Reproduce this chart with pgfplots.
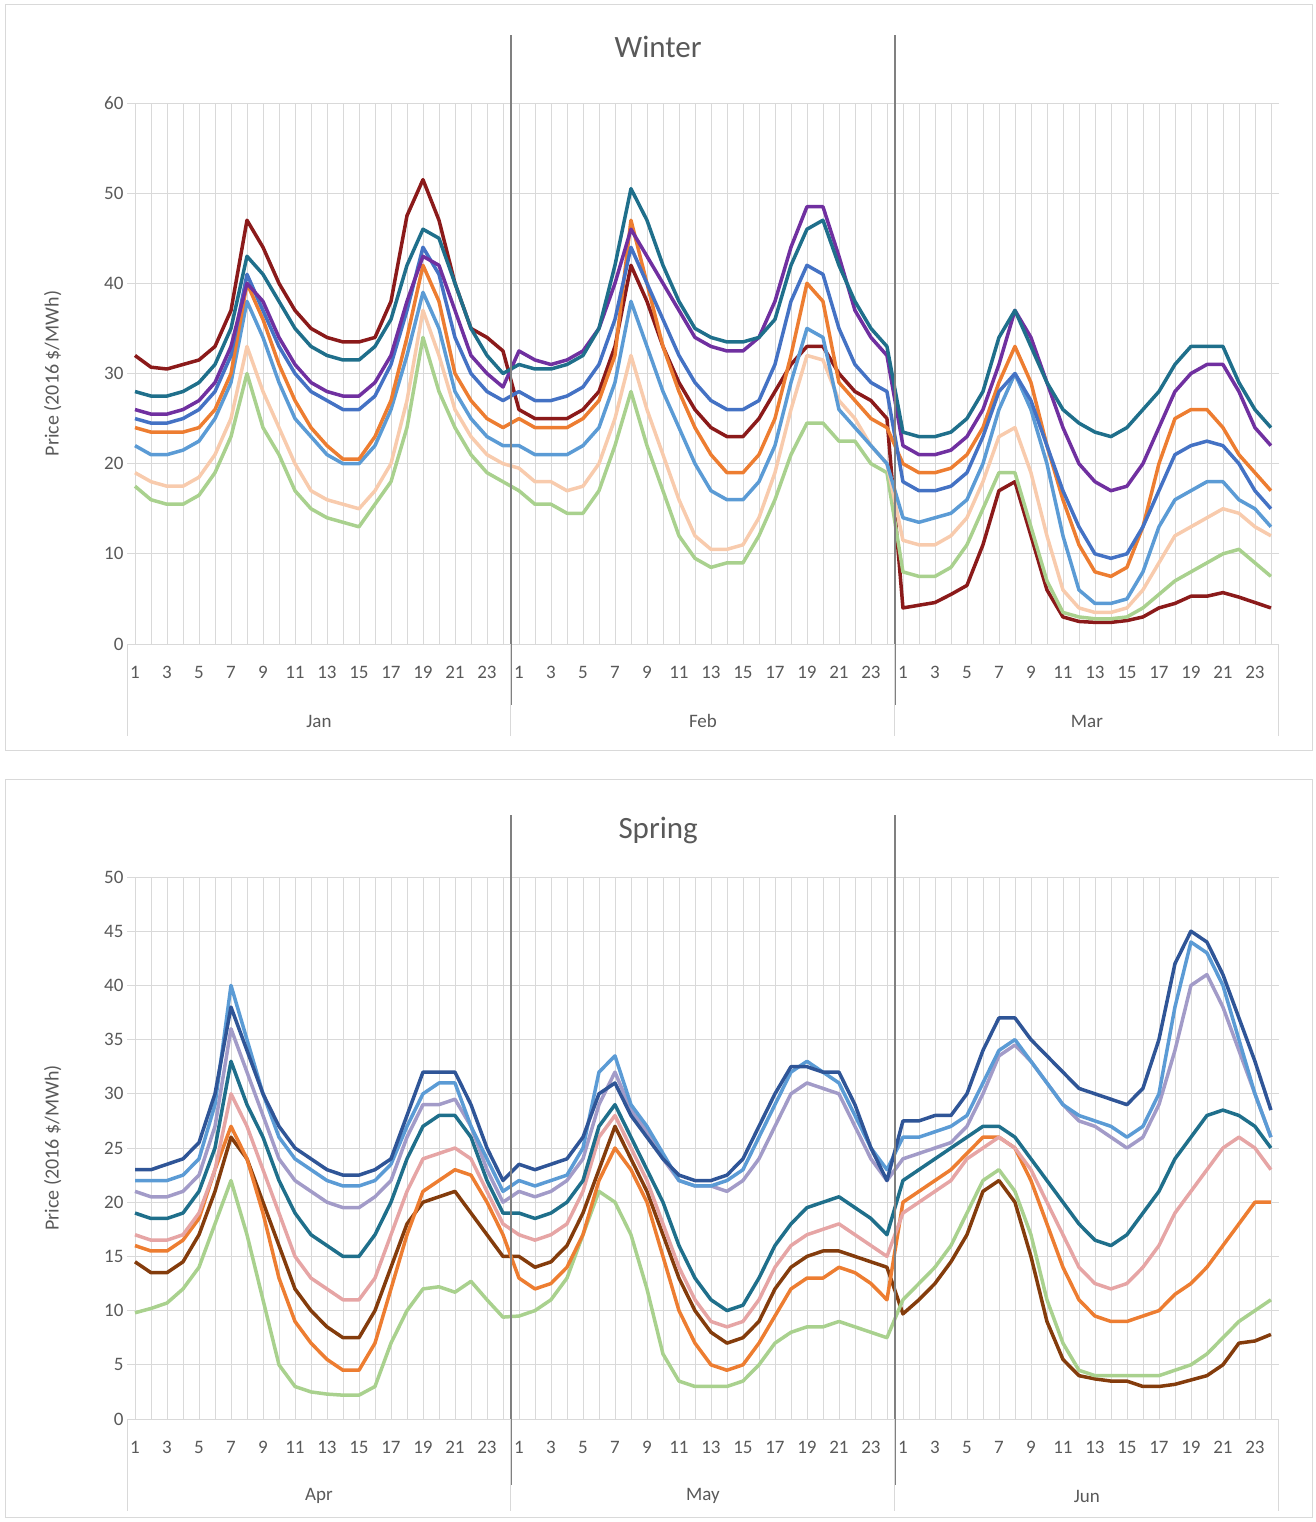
\documentclass[border=0pt]{standalone}
\usepackage{fontspec}
\setmainfont{Carlito}
\usepackage{pgfplots}
\pgfplotsset{compat=1.18}
\definecolor{tx}{HTML}{595959}
\definecolor{gr}{HTML}{D9D9D9}
\definecolor{c1}{HTML}{8B1A1A}
\definecolor{c2}{HTML}{1F6F8B}
\definecolor{c3}{HTML}{7030A0}
\definecolor{c4}{HTML}{ED7D31}
\definecolor{c5}{HTML}{5B9BD5}
\definecolor{c6}{HTML}{A9D18E}
\definecolor{c7}{HTML}{4472C4}
\definecolor{c8}{HTML}{F8CBAD}
\definecolor{d1}{HTML}{2F5597}
\definecolor{d2}{HTML}{9DC3E6}
\definecolor{d5}{HTML}{843C0C}
\definecolor{d7}{HTML}{E6A5A5}
\definecolor{d8}{HTML}{A29BC8}
\pgfplotsset{
  myax/.style={scale only axis, width=1152pt, clip=false,
    xmin=-0.5, xmax=71.5, xtick={0,...,71},
    xticklabels={1,,3,,5,,7,,9,,11,,13,,15,,17,,19,,21,,23,,1,,3,,5,,7,,9,,11,,13,,15,,17,,19,,21,,23,,1,,3,,5,,7,,9,,11,,13,,15,,17,,19,,21,,23,},
    axis line style={draw=none}, major tick length=0pt,
    grid=major, grid style={gr, line width=0.8pt},
    tick label style={font=\fontsize{19}{22}\selectfont, text=tx},
    xticklabel style={yshift=-19pt},
    /pgf/number format/assume math mode=true,
    ylabel style={font=\fontsize{20}{24}\selectfont, text=tx, yshift=36pt},
    cycle list={}, every axis plot/.append style={line width=3.5pt, line join=round, no markers}},
}
\newcommand{\monthdeco}[3]{%
  \draw[gr, line width=1pt] (axis cs:-0.5,0) -- ([yshift=-92pt]axis cs:-0.5,0);
  \draw[gr, line width=1pt] (axis cs:23.5,0) -- ([yshift=-92pt]axis cs:23.5,0);
  \draw[gr, line width=1pt] (axis cs:47.5,0) -- ([yshift=-92pt]axis cs:47.5,0);
  \draw[gr, line width=1pt] (axis cs:71.5,0) -- ([yshift=-92pt]axis cs:71.5,0);
  \node[text=tx, font=\fontsize{19}{22}\selectfont] at ([yshift=-77pt]axis cs:11.5,0) {#1};
  \node[text=tx, font=\fontsize{19}{22}\selectfont] at ([yshift=-77pt]axis cs:35.5,0) {#2};
  \node[text=tx, font=\fontsize{19}{22}\selectfont] at ([yshift=-77pt]axis cs:59.5,0) {#3};
}
\begin{document}
\begin{tikzpicture}
\useasboundingbox (0pt,0pt) rectangle (1315pt,-1522pt);
\draw[gr, line width=1pt] (5pt,-5pt) rectangle (1312pt,-750pt);
\draw[gr, line width=1pt] (5pt,-779pt) rectangle (1312pt,-1517pt);
\begin{axis}[myax, at={(127pt,-644pt)}, anchor=south west, height=541pt,
  ymin=0, ymax=60, ytick={0,10,...,60}, ylabel={Price (2016 \$/MWh)}]
\addplot[c1] coordinates {(0,32)(1,30.7)(2,30.5)(3,31)(4,31.5)(5,33)(6,37)(7,47)(8,44)(9,40)(10,37)(11,35)(12,34)(13,33.5)(14,33.5)(15,34)(16,38)(17,47.5)(18,51.5)(19,47)(20,40)(21,35)(22,34)(23,32.5)
(24,26)(25,25)(26,25)(27,25)(28,26)(29,28)(30,33)(31,42)(32,38)(33,33)(34,29)(35,26)(36,24)(37,23)(38,23)(39,25)(40,28)(41,31)(42,33)(43,33)(44,30)(45,28)(46,27)(47,25)
(48,4)(49,4.3)(50,4.6)(51,5.5)(52,6.5)(53,11)(54,17)(55,18)(56,12)(57,6)(58,3)(59,2.5)(60,2.4)(61,2.4)(62,2.6)(63,3)(64,4)(65,4.5)(66,5.3)(67,5.3)(68,5.7)(69,5.2)(70,4.6)(71,4)};
\addplot[c6] coordinates {(0,17.5)(1,16)(2,15.5)(3,15.5)(4,16.5)(5,19)(6,23)(7,30)(8,24)(9,21)(10,17)(11,15)(12,14)(13,13.5)(14,13)(15,15.5)(16,18)(17,24)(18,34)(19,28)(20,24)(21,21)(22,19)(23,18)
(24,17)(25,15.5)(26,15.5)(27,14.5)(28,14.5)(29,17)(30,22)(31,28)(32,22)(33,17)(34,12)(35,9.5)(36,8.5)(37,9)(38,9)(39,12)(40,16)(41,21)(42,24.5)(43,24.5)(44,22.5)(45,22.5)(46,20)(47,19)
(48,8)(49,7.5)(50,7.5)(51,8.5)(52,11)(53,15)(54,19)(55,19)(56,13)(57,7)(58,3.5)(59,3)(60,2.8)(61,2.8)(62,3)(63,4)(64,5.5)(65,7)(66,8)(67,9)(68,10)(69,10.5)(70,9)(71,7.5)};
\addplot[c8] coordinates {(0,19)(1,18)(2,17.5)(3,17.5)(4,18.5)(5,21)(6,25)(7,33)(8,28)(9,24)(10,20)(11,17)(12,16)(13,15.5)(14,15)(15,17)(16,20)(17,27)(18,37)(19,32)(20,26)(21,23)(22,21)(23,20)
(24,19.5)(25,18)(26,18)(27,17)(28,17.5)(29,20)(30,25)(31,32)(32,26)(33,21)(34,16)(35,12)(36,10.5)(37,10.5)(38,11)(39,14)(40,19)(41,26)(42,32)(43,31.5)(44,27)(45,25)(46,22)(47,20)
(48,11.5)(49,11)(50,11)(51,12)(52,14)(53,18)(54,23)(55,24)(56,19)(57,12)(58,6)(59,4)(60,3.5)(61,3.5)(62,4)(63,6)(64,9)(65,12)(66,13)(67,14)(68,15)(69,14.5)(70,13)(71,12)};
\addplot[c5] coordinates {(0,22)(1,21)(2,21)(3,21.5)(4,22.5)(5,25)(6,29)(7,38)(8,34)(9,29)(10,25)(11,23)(12,21)(13,20)(14,20)(15,22)(16,26)(17,32)(18,39)(19,35)(20,28)(21,25)(22,23)(23,22)
(24,22)(25,21)(26,21)(27,21)(28,22)(29,24)(30,29)(31,38)(32,33)(33,28)(34,24)(35,20)(36,17)(37,16)(38,16)(39,18)(40,22)(41,29)(42,35)(43,34)(44,26)(45,24)(46,22)(47,20)
(48,14)(49,13.5)(50,14)(51,14.5)(52,16)(53,20)(54,26)(55,30)(56,26)(57,20)(58,12)(59,6)(60,4.5)(61,4.5)(62,5)(63,8)(64,13)(65,16)(66,17)(67,18)(68,18)(69,16)(70,15)(71,13)};
\addplot[c4] coordinates {(0,24)(1,23.5)(2,23.5)(3,23.5)(4,24)(5,26)(6,30)(7,40)(8,36)(9,31)(10,27)(11,24)(12,22)(13,20.5)(14,20.5)(15,23)(16,27)(17,34)(18,42)(19,38)(20,30)(21,27)(22,25)(23,24)
(24,25)(25,24)(26,24)(27,24)(28,25)(29,27)(30,32)(31,47)(32,40)(33,33)(34,28)(35,24)(36,21)(37,19)(38,19)(39,21)(40,25)(41,32)(42,40)(43,38)(44,29)(45,27)(46,25)(47,24)
(48,20)(49,19)(50,19)(51,19.5)(52,21)(53,24)(54,29)(55,33)(56,29)(57,22)(58,16)(59,11)(60,8)(61,7.5)(62,8.5)(63,13)(64,20)(65,25)(66,26)(67,26)(68,24)(69,21)(70,19)(71,17)};
\addplot[c7] coordinates {(0,25)(1,24.5)(2,24.5)(3,25)(4,26)(5,28)(6,32)(7,41)(8,37)(9,33)(10,30)(11,28)(12,27)(13,26)(14,26)(15,27.5)(16,31)(17,37)(18,44)(19,41)(20,34)(21,30)(22,28)(23,27)
(24,28)(25,27)(26,27)(27,27.5)(28,28.5)(29,31)(30,36)(31,44)(32,40)(33,36)(34,32)(35,29)(36,27)(37,26)(38,26)(39,27)(40,31)(41,38)(42,42)(43,41)(44,35)(45,31)(46,29)(47,28)
(48,18)(49,17)(50,17)(51,17.5)(52,19)(53,23)(54,28)(55,30)(56,27)(57,22)(58,17)(59,13)(60,10)(61,9.5)(62,10)(63,13)(64,17)(65,21)(66,22)(67,22.5)(68,22)(69,20)(70,17)(71,15)};
\addplot[c3] coordinates {(0,26)(1,25.5)(2,25.5)(3,26)(4,27)(5,29)(6,33)(7,40)(8,38)(9,34)(10,31)(11,29)(12,28)(13,27.5)(14,27.5)(15,29)(16,32)(17,38)(18,43)(19,42)(20,37)(21,32)(22,30)(23,28.5)
(24,32.5)(25,31.5)(26,31)(27,31.5)(28,32.5)(29,35)(30,40)(31,46)(32,43)(33,40)(34,37)(35,34)(36,33)(37,32.5)(38,32.5)(39,34)(40,38)(41,44)(42,48.5)(43,48.5)(44,43)(45,37)(46,34)(47,32)
(48,22)(49,21)(50,21)(51,21.5)(52,23)(53,26)(54,31)(55,37)(56,34)(57,29)(58,24)(59,20)(60,18)(61,17)(62,17.5)(63,20)(64,24)(65,28)(66,30)(67,31)(68,31)(69,28)(70,24)(71,22)};
\addplot[c2] coordinates {(0,28)(1,27.5)(2,27.5)(3,28)(4,29)(5,31)(6,35)(7,43)(8,41)(9,38)(10,35)(11,33)(12,32)(13,31.5)(14,31.5)(15,33)(16,36)(17,42)(18,46)(19,45)(20,40)(21,35)(22,32)(23,30)
(24,31)(25,30.5)(26,30.5)(27,31)(28,32)(29,35)(30,42)(31,50.5)(32,47)(33,42)(34,38)(35,35)(36,34)(37,33.5)(38,33.5)(39,34)(40,36)(41,42)(42,46)(43,47)(44,42)(45,38)(46,35)(47,33)
(48,23.5)(49,23)(50,23)(51,23.5)(52,25)(53,28)(54,34)(55,37)(56,33)(57,29)(58,26)(59,24.5)(60,23.5)(61,23)(62,24)(63,26)(64,28)(65,31)(66,33)(67,33)(68,33)(69,29)(70,26)(71,24)};
\draw[gray, line width=2pt] (axis cs:23.5,-6.8) -- (axis cs:23.5,67.5);
\draw[gray, line width=2pt] (axis cs:47.5,-6.8) -- (axis cs:47.5,67.5);
\node[text=tx, font=\fontsize{31}{36}\selectfont] at (axis cs:32.7,66.2) {Winter};
\monthdeco{Jan}{Feb}{Mar}
\end{axis}
\begin{axis}[myax, at={(127pt,-1419pt)}, anchor=south west, height=542pt,
  ymin=0, ymax=50, ytick={0,5,...,50}, ylabel={Price (2016 \$/MWh)}]
\addplot[d5] coordinates {(0,14.5)(1,13.5)(2,13.5)(3,14.5)(4,17)(5,21)(6,26)(7,24)(8,20)(9,16)(10,12)(11,10)(12,8.5)(13,7.5)(14,7.5)(15,10)(16,14)(17,18)(18,20)(19,20.5)(20,21)(21,19)(22,17)(23,15)
(24,15)(25,14)(26,14.5)(27,16)(28,19)(29,23)(30,27)(31,24)(32,21)(33,17)(34,13)(35,10)(36,8)(37,7)(38,7.5)(39,9)(40,12)(41,14)(42,15)(43,15.5)(44,15.5)(45,15)(46,14.5)(47,14)
(48,9.7)(49,11)(50,12.5)(51,14.5)(52,17)(53,21)(54,22)(55,20)(56,15)(57,9)(58,5.5)(59,4)(60,3.7)(61,3.5)(62,3.5)(63,3)(64,3)(65,3.2)(66,3.6)(67,4)(68,5)(69,7)(70,7.2)(71,7.8)};
\addplot[c6] coordinates {(0,9.8)(1,10.2)(2,10.7)(3,12)(4,14)(5,18)(6,22)(7,17)(8,11)(9,5)(10,3)(11,2.5)(12,2.3)(13,2.2)(14,2.2)(15,3)(16,7)(17,10)(18,12)(19,12.2)(20,11.7)(21,12.7)(22,11)(23,9.4)
(24,9.5)(25,10)(26,11)(27,13)(28,17)(29,21)(30,20)(31,17)(32,12)(33,6)(34,3.5)(35,3)(36,3)(37,3)(38,3.5)(39,5)(40,7)(41,8)(42,8.5)(43,8.5)(44,9)(45,8.5)(46,8)(47,7.5)
(48,11)(49,12.5)(50,14)(51,16)(52,19)(53,22)(54,23)(55,21)(56,17)(57,11)(58,7)(59,4.5)(60,4)(61,4)(62,4)(63,4)(64,4)(65,4.5)(66,5)(67,6)(68,7.5)(69,9)(70,10)(71,11)};
\addplot[c4] coordinates {(0,16)(1,15.5)(2,15.5)(3,16.5)(4,18.5)(5,23)(6,27)(7,24)(8,19)(9,13)(10,9)(11,7)(12,5.5)(13,4.5)(14,4.5)(15,7)(16,12)(17,17)(18,21)(19,22)(20,23)(21,22.5)(22,20)(23,17)
(24,13)(25,12)(26,12.5)(27,14)(28,17)(29,22)(30,25)(31,23)(32,20)(33,15)(34,10)(35,7)(36,5)(37,4.5)(38,5)(39,7)(40,9.5)(41,12)(42,13)(43,13)(44,14)(45,13.5)(46,12.5)(47,11)
(48,20)(49,21)(50,22)(51,23)(52,24.5)(53,26)(54,26)(55,25)(56,22)(57,18)(58,14)(59,11)(60,9.5)(61,9)(62,9)(63,9.5)(64,10)(65,11.5)(66,12.5)(67,14)(68,16)(69,18)(70,20)(71,20)};
\addplot[d7] coordinates {(0,17)(1,16.5)(2,16.5)(3,17)(4,19)(5,23)(6,30)(7,27)(8,23)(9,19)(10,15)(11,13)(12,12)(13,11)(14,11)(15,13)(16,17)(17,21)(18,24)(19,24.5)(20,25)(21,24)(22,21)(23,18)
(24,17)(25,16.5)(26,17)(27,18)(28,21)(29,26)(30,28)(31,25)(32,22)(33,18)(34,14)(35,11)(36,9)(37,8.5)(38,9)(39,11)(40,14)(41,16)(42,17)(43,17.5)(44,18)(45,17)(46,16)(47,15)
(48,19)(49,20)(50,21)(51,22)(52,24)(53,25)(54,26)(55,25)(56,23)(57,20)(58,17)(59,14)(60,12.5)(61,12)(62,12.5)(63,14)(64,16)(65,19)(66,21)(67,23)(68,25)(69,26)(70,25)(71,23)};
\addplot[c2] coordinates {(0,19)(1,18.5)(2,18.5)(3,19)(4,21)(5,25)(6,33)(7,29)(8,26)(9,22)(10,19)(11,17)(12,16)(13,15)(14,15)(15,17)(16,20)(17,24)(18,27)(19,28)(20,28)(21,26)(22,22)(23,19)
(24,19)(25,18.5)(26,19)(27,20)(28,22)(29,27)(30,29)(31,26)(32,23)(33,20)(34,16)(35,13)(36,11)(37,10)(38,10.5)(39,13)(40,16)(41,18)(42,19.5)(43,20)(44,20.5)(45,19.5)(46,18.5)(47,17)
(48,22)(49,23)(50,24)(51,25)(52,26)(53,27)(54,27)(55,26)(56,24)(57,22)(58,20)(59,18)(60,16.5)(61,16)(62,17)(63,19)(64,21)(65,24)(66,26)(67,28)(68,28.5)(69,28)(70,27)(71,25)};
\addplot[d8] coordinates {(0,21)(1,20.5)(2,20.5)(3,21)(4,22.5)(5,27)(6,36)(7,32)(8,28)(9,24)(10,22)(11,21)(12,20)(13,19.5)(14,19.5)(15,20.5)(16,22)(17,26)(18,29)(19,29)(20,29.5)(21,27)(22,23)(23,20)
(24,21)(25,20.5)(26,21)(27,22)(28,24)(29,29)(30,32)(31,28.5)(32,26.5)(33,24)(34,22)(35,21.5)(36,21.5)(37,21)(38,22)(39,24)(40,27)(41,30)(42,31)(43,30.5)(44,30)(45,27)(46,24)(47,22)
(48,24)(49,24.5)(50,25)(51,25.5)(52,27)(53,30)(54,33.5)(55,34.5)(56,33)(57,31)(58,29)(59,27.5)(60,27)(61,26)(62,25)(63,26)(64,29)(65,34)(66,40)(67,41)(68,38)(69,34)(70,30)(71,26)};
\addplot[c5] coordinates {(0,22)(1,22)(2,22)(3,22.5)(4,24)(5,29)(6,40)(7,35)(8,30)(9,26)(10,24)(11,23)(12,22)(13,21.5)(14,21.5)(15,22)(16,23.5)(17,27)(18,30)(19,31)(20,31)(21,27)(22,24)(23,21)
(24,22)(25,21.5)(26,22)(27,22.5)(28,25)(29,32)(30,33.5)(31,29)(32,27)(33,24.5)(34,22)(35,21.5)(36,21.5)(37,22)(38,23)(39,26)(40,29)(41,32)(42,33)(43,32)(44,31)(45,28)(46,25)(47,23)
(48,26)(49,26)(50,26.5)(51,27)(52,28)(53,31)(54,34)(55,35)(56,33)(57,31)(58,29)(59,28)(60,27.5)(61,27)(62,26)(63,27)(64,30)(65,38)(66,44)(67,43)(68,40)(69,35)(70,30)(71,26)};
\addplot[d1] coordinates {(0,23)(1,23)(2,23.5)(3,24)(4,25.5)(5,30)(6,38)(7,34)(8,30)(9,27)(10,25)(11,24)(12,23)(13,22.5)(14,22.5)(15,23)(16,24)(17,28)(18,32)(19,32)(20,32)(21,29)(22,25)(23,22)
(24,23.5)(25,23)(26,23.5)(27,24)(28,26)(29,30)(30,31)(31,28)(32,26)(33,24)(34,22.5)(35,22)(36,22)(37,22.5)(38,24)(39,27)(40,30)(41,32.5)(42,32.5)(43,32)(44,32)(45,29)(46,25)(47,22)
(48,27.5)(49,27.5)(50,28)(51,28)(52,30)(53,34)(54,37)(55,37)(56,35)(57,33.5)(58,32)(59,30.5)(60,30)(61,29.5)(62,29)(63,30.5)(64,35)(65,42)(66,45)(67,44)(68,41)(69,37)(70,33)(71,28.5)};
\draw[gray, line width=2pt] (axis cs:23.5,-6.1) -- (axis cs:23.5,55.7);
\draw[gray, line width=2pt] (axis cs:47.5,-6.1) -- (axis cs:47.5,55.7);
\node[text=tx, font=\fontsize{31}{36}\selectfont] at (axis cs:32.7,54.3) {Spring};
\monthdeco{Apr}{May}{Jun}
\end{axis}
\end{tikzpicture}
\end{document}
